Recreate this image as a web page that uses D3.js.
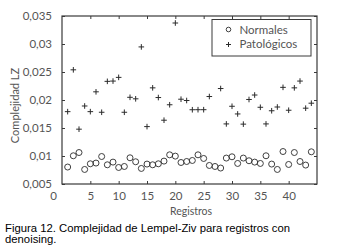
<!DOCTYPE html>
<html><head><meta charset="utf-8">
<script src="https://cdn.jsdelivr.net/npm/d3@7"></script>
<style>
html,body{margin:0;padding:0;background:#fff;}
svg{display:block;}
</style></head>
<body>
<script>
const registros = d3.range(1, 45);
const normales = [0.00803,0.01004,0.01062,0.0076,0.00861,0.00874,0.00991,0.00843,0.00891,0.00795,
  0.00813,0.00968,0.00897,0.00778,0.00856,0.00843,0.00861,0.00909,0.01021,0.00998,
  0.00884,0.00902,0.0092,0.01021,0.00956,0.00831,0.00813,0.00785,0.00963,0.00986,
  0.00867,0.00963,0.00915,0.00891,0.00867,0.01004,0.00856,0.0076,0.0108,0.00849,
  0.01062,0.00902,0.00838,0.01075];
const patologicos = [0.01792,0.02539,0.01479,0.01893,0.01792,0.02146,0.01781,0.02333,0.02338,0.02404,
  0.01781,0.02048,0.02021,0.02948,0.01525,0.02217,0.02044,0.01639,0.01915,0.03375,
  0.02014,0.01991,0.01826,0.01827,0.01827,0.02062,null,0.02205,0.01573,0.01888,
  0.01751,0.01569,0.02009,0.02089,0.0187,0.01573,0.01808,0.01875,0.02226,0.01817,
  0.02217,0.02338,0.01854,0.01943];
const xTicks = [0,5,10,15,20,25,30,35,40];
const xTickLabels = ["0","5","10","15","20","25","30","35","40"];
const yTicks = [0.005,0.01,0.015,0.02,0.025,0.03,0.035];
const yTickLabels = ["0,005","0,01","0,015","0,02","0,025","0,03","0,035"];
const legendLabels = ["Normales","Patológicos"];
const yTitle = "Complejidad LZ";
const xTitle = "Registros";
const captionLines = ["Figura 12. Complejidad de Lempel-Ziv para registros con","denoising."];

const W = 350, H = 251;
const L = 62, R = 317, T = 16, B = 184;
const svg = d3.select("body").append("svg").attr("width", W).attr("height", H);
svg.append("rect").attr("width", W).attr("height", H).attr("fill", "#fff");

const x = d3.scaleLinear().domain([0,45]).range([L,R]);
const y = d3.scaleLinear().domain([0.005,0.035]).range([B,T]);

const font = "Lato, 'Liberation Sans', sans-serif";
const axCol = "#3a3a3a", txtCol = "#555";

const xAxisB = d3.axisBottom(x).tickValues(xTicks).tickSizeInner(-3).tickSizeOuter(0)
  .tickPadding(8).tickFormat((d,i)=>xTickLabels[i]);
const xAxisT = d3.axisTop(x).tickValues(xTicks).tickSizeInner(-3).tickSizeOuter(0).tickFormat("");
const yAxisL = d3.axisLeft(y).tickValues(yTicks).tickSizeInner(-3).tickSizeOuter(0)
  .tickPadding(10).tickFormat((d,i)=>yTickLabels[i]);
const yAxisR = d3.axisRight(y).tickValues(yTicks).tickSizeInner(-3).tickSizeOuter(0).tickFormat("");

function style(g){
  g.select(".domain").remove();
  g.selectAll("line").attr("stroke", axCol).attr("stroke-width", 1);
  g.selectAll("text").attr("fill", txtCol).style("font-family", font).style("font-size","11.5px");
}
const gb = svg.append("g").attr("transform",`translate(0,${B})`).call(xAxisB).call(style);
gb.selectAll(".tick").filter(d=>d===0).select("text").attr("dx", -9);
gb.selectAll(".tick").filter(d=>d===0).select("line").remove();
svg.append("g").attr("transform",`translate(0,${T})`).call(xAxisT).call(style)
  .selectAll(".tick").filter(d=>d===0).remove();
svg.append("g").attr("transform",`translate(${L},0)`).call(yAxisL).call(style);
svg.append("g").attr("transform",`translate(${R},0)`).call(yAxisR).call(style);

svg.append("rect").attr("x",L).attr("y",T).attr("width",R-L).attr("height",B-T)
  .attr("fill","none").attr("stroke",axCol).attr("stroke-width",1.2);

const mk = "#2b2b2b";
svg.append("g").selectAll("circle").data(registros.map((r,i)=>[r,normales[i]]))
  .join("circle").attr("cx",d=>x(d[0])).attr("cy",d=>y(d[1])).attr("r",3)
  .attr("fill","none").attr("stroke",mk).attr("stroke-width",0.9);
const cs = 2.8;
svg.append("g").selectAll("path").data(registros.map((r,i)=>[r,patologicos[i]]).filter(d=>d[1]!=null))
  .join("path").attr("d",d=>{const cx=x(d[0]),cy=y(d[1]);return `M${cx-cs},${cy}H${cx+cs}M${cx},${cy-cs}V${cy+cs}`;})
  .attr("stroke",mk).attr("stroke-width",1).attr("fill","none");

const lg = svg.append("g");
lg.append("rect").attr("x",212).attr("y",19.5).attr("width",99).attr("height",36.5)
  .attr("fill","#fff").attr("stroke",axCol).attr("stroke-width",1);
lg.append("circle").attr("cx",228.5).attr("cy",29.5).attr("r",2.3).attr("fill","none").attr("stroke",mk).attr("stroke-width",0.9);
lg.append("path").attr("d",`M${228.5-2.5},44.5H${228.5+2.5}M228.5,42V47`).attr("stroke",mk).attr("stroke-width",1);
lg.selectAll("text").data(legendLabels).join("text")
  .attr("x",239.5).attr("y",(d,i)=>33.5+i*14.3).text(d=>d)
  .attr("fill",txtCol).style("font-family",font).style("font-size","11.5px");

svg.append("text").attr("transform","translate(18.5,105.5) rotate(-90)").attr("text-anchor","middle")
  .text(yTitle).attr("fill",txtCol).style("font-family",font).style("font-size","11px");
svg.append("text").attr("x",191).attr("y",214.5).attr("text-anchor","middle")
  .text(xTitle).attr("fill",txtCol).style("font-family",font).style("font-size","10.5px");

svg.selectAll("text.cap").data(captionLines).join("text").attr("class","cap")
  .attr("x",5).attr("y",(d,i)=>231.5+i*11.5).text(d=>d)
  .attr("fill","#000").style("font-family","'Liberation Sans', Arial, sans-serif").style("font-size","11.3px");
</script>
</body></html>
